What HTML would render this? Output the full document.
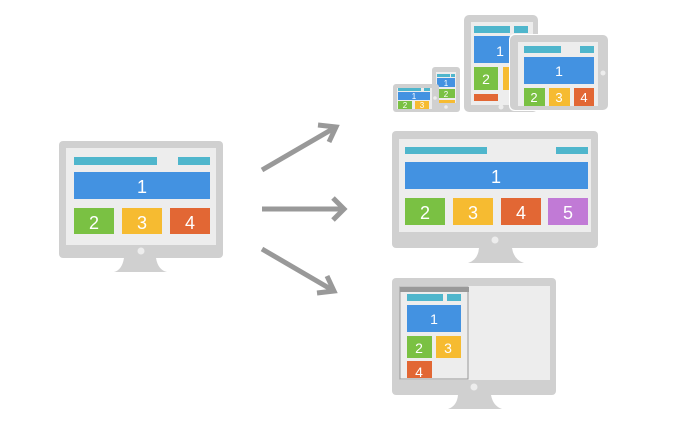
<!DOCTYPE html>
<html><head><meta charset="utf-8"><style>
html,body{margin:0;padding:0;background:#fff;}
svg{display:block;}
text{font-family:"Liberation Sans",sans-serif;fill:#fff;text-anchor:middle;}
</style></head><body>
<svg width="680" height="427" viewBox="0 0 680 427" xmlns="http://www.w3.org/2000/svg">
<!-- Left monitor -->
<path d="M124 258 L156 258 Q158 270 167 272 L114 272 Q122 270 124 258Z" fill="#d0d0d0"/>
<rect x="59" y="141" width="164" height="117" rx="4" fill="#d0d0d0"/>
<rect x="66" y="148" width="150" height="97" fill="#ededed"/>
<rect x="74" y="157" width="83" height="8" fill="#4fb6cc"/>
<rect x="178" y="157" width="32" height="8" fill="#4fb6cc"/>
<rect x="74" y="172" width="136" height="27" fill="#4392e1"/>
<text x="142" y="193" font-size="18">1</text>
<rect x="74" y="208" width="40" height="26" fill="#7ac143"/><text x="94" y="229" font-size="18">2</text>
<rect x="122" y="208" width="40" height="26" fill="#f6bb31"/><text x="142" y="229" font-size="18">3</text>
<rect x="170" y="208" width="40" height="26" fill="#e26734"/><text x="190" y="229" font-size="18">4</text>
<circle cx="141" cy="251" r="3.5" fill="#ededed"/>

<!-- Arrows -->
<g stroke="#999" stroke-width="5" fill="none">
<line x1="262" y1="170" x2="336" y2="127"/>
<polyline points="318,125 336,127 329,142"/>
<line x1="262" y1="209" x2="344" y2="209"/>
<polyline points="333,198 344,209 333,220"/>
<line x1="262" y1="249" x2="334" y2="291"/>
<polyline points="327,276 334,291 317,293"/>
</g>

<!-- Middle monitor -->
<path d="M479 248 L512 248 Q514 260 524 263 L468 263 Q478 260 479 248Z" fill="#d0d0d0"/>
<rect x="392" y="131" width="206" height="117" rx="4" fill="#d0d0d0"/>
<rect x="399" y="139" width="192" height="93" fill="#ededed"/>
<rect x="405" y="147" width="82" height="7" fill="#4fb6cc"/>
<rect x="556" y="147" width="32" height="7" fill="#4fb6cc"/>
<rect x="405" y="162" width="183" height="27" fill="#4392e1"/><text x="496" y="183" font-size="18">1</text>
<rect x="405" y="198" width="40" height="27" fill="#7ac143"/><text x="425" y="219" font-size="18">2</text>
<rect x="453" y="198" width="40" height="27" fill="#f6bb31"/><text x="473" y="219" font-size="18">3</text>
<rect x="501" y="198" width="40" height="27" fill="#e26734"/><text x="521" y="219" font-size="18">4</text>
<rect x="548" y="198" width="40" height="27" fill="#c17ad6"/><text x="568" y="219" font-size="18">5</text>
<circle cx="495" cy="240" r="3.5" fill="#ededed"/>

<!-- Bottom monitor -->
<path d="M458 395 L491 395 Q493 406 502 409 L448 409 Q457 406 458 395Z" fill="#d0d0d0"/>
<rect x="392" y="278" width="164" height="117" rx="4" fill="#d0d0d0"/>
<rect x="400" y="286" width="150" height="94" fill="#ededed"/>
<rect x="400" y="287" width="68" height="92" fill="#ededed" stroke="#999" stroke-width="1"/>
<rect x="400" y="287" width="69" height="5" fill="#999"/>
<rect x="407" y="294" width="36" height="7" fill="#4fb6cc"/>
<rect x="447" y="294" width="14" height="7" fill="#4fb6cc"/>
<rect x="407" y="305" width="54" height="27" fill="#4392e1"/><text x="434" y="324" font-size="14">1</text>
<rect x="407" y="336" width="25" height="22" fill="#7ac143"/><text x="419" y="353" font-size="14">2</text>
<rect x="436" y="336" width="25" height="22" fill="#f6bb31"/><text x="448" y="353" font-size="14">3</text>
<rect x="407" y="361" width="25" height="17" fill="#e26734"/><text x="419" y="377" font-size="14">4</text>
<circle cx="474" cy="387" r="3.5" fill="#ededed"/>

<!-- Portrait tablet -->
<rect x="464" y="15" width="74" height="97" rx="5" fill="#d0d0d0"/>
<rect x="471" y="22" width="62" height="83" fill="#ededed"/>
<rect x="474" y="26" width="36" height="7" fill="#4fb6cc"/>
<rect x="514" y="26" width="14" height="7" fill="#4fb6cc"/>
<rect x="474" y="36" width="56" height="27" fill="#4392e1"/><text x="500" y="56" font-size="14">1</text>
<rect x="474" y="67" width="24" height="23" fill="#7ac143"/><text x="486" y="84" font-size="14">2</text>
<rect x="503" y="67" width="24" height="23" fill="#f6bb31"/>
<rect x="474" y="94" width="24" height="7" fill="#e26734"/>
<circle cx="501" cy="107" r="2.5" fill="#ededed"/>

<!-- Landscape tablet -->
<rect x="509" y="34" width="100" height="77" rx="5" fill="#fff"/>
<rect x="510" y="35" width="98" height="75" rx="5" fill="#d0d0d0"/>
<rect x="518" y="42" width="80" height="64" fill="#ededed"/>
<rect x="524" y="46" width="37" height="7" fill="#4fb6cc"/>
<rect x="580" y="46" width="14" height="7" fill="#4fb6cc"/>
<rect x="524" y="57" width="70" height="27" fill="#4392e1"/><text x="559" y="76" font-size="14">1</text>
<rect x="524" y="88" width="21" height="18" fill="#7ac143"/><text x="534" y="102" font-size="13">2</text>
<rect x="549" y="88" width="21" height="18" fill="#f6bb31"/><text x="559" y="102" font-size="13">3</text>
<rect x="574" y="88" width="20" height="18" fill="#e26734"/><text x="584" y="102" font-size="13">4</text>
<circle cx="603" cy="73" r="2.5" fill="#ededed"/>

<!-- Portrait phone -->
<rect x="432" y="67" width="28" height="45" rx="3" fill="#d0d0d0"/>
<rect x="436" y="72" width="20" height="31" fill="#ededed"/>
<rect x="437" y="74" width="13" height="3" fill="#4fb6cc"/>
<rect x="451" y="74" width="4" height="3" fill="#4fb6cc"/>
<rect x="437" y="78" width="18" height="9" fill="#4392e1"/><text x="446" y="86" font-size="8">1</text>
<rect x="437" y="89" width="18" height="9" fill="#7ac143"/><text x="446" y="97" font-size="8">2</text>
<rect x="437" y="100" width="18" height="3" fill="#f6bb31"/>
<circle cx="446" cy="107" r="1.8" fill="#ededed"/>

<!-- Landscape phone -->
<rect x="393" y="84" width="46" height="28" rx="3" fill="#d0d0d0"/>
<rect x="397" y="88" width="35" height="21" fill="#ededed"/>
<rect x="398" y="88" width="23" height="3" fill="#4fb6cc"/>
<rect x="424" y="88" width="6" height="3" fill="#4fb6cc"/>
<rect x="398" y="92" width="32" height="8" fill="#4392e1"/><text x="414" y="99" font-size="8">1</text>
<rect x="398" y="101" width="14" height="8" fill="#7ac143"/><text x="405" y="108" font-size="8">2</text>
<rect x="415" y="101" width="14" height="8" fill="#f6bb31"/><text x="422" y="108" font-size="8">3</text>
<circle cx="435" cy="98" r="1.8" fill="#ededed"/>
</svg>
</body></html>
